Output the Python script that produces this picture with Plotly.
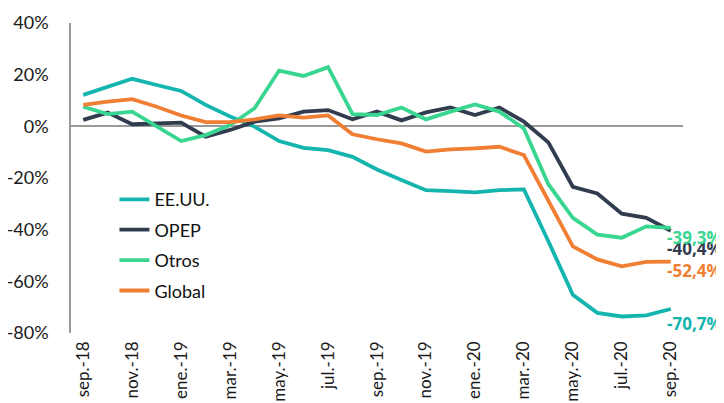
import plotly.graph_objects as go

months = ["sep.-18", "oct.-18", "nov.-18", "dic.-18", "ene.-19", "feb.-19", "mar.-19",
          "abr.-19", "may.-19", "jun.-19", "jul.-19", "ago.-19", "sep.-19", "oct.-19",
          "nov.-19", "dic.-19", "ene.-20", "feb.-20", "mar.-20", "abr.-20", "may.-20",
          "jun.-20", "jul.-20", "ago.-20", "sep.-20"]

eeuu = [12.2, 15.4, 18.4, 16.0, 13.7, 8.3, 3.8, -0.1, -5.7, -8.3, -9.2, -11.8, -16.7,
        -20.8, -24.7, -25.1, -25.6, -24.7, -24.4, -44.5, -65.2, -72.2, -73.6, -73.2, -70.7]
opep = [2.5, 5.3, 0.8, 1.0, 1.4, -4.0, -1.4, 1.8, 3.1, 5.7, 6.3, 2.7, 5.7,
        2.3, 5.4, 7.3, 4.4, 7.3, 1.8, -6.2, -23.4, -26.0, -33.8, -35.4, -40.4]
otros = [7.6, 4.7, 5.7, -0.1, -5.7, -3.4, 0.5, 7.0, 21.6, 19.5, 22.9, 4.7, 4.4,
         7.3, 2.7, 5.7, 8.5, 5.7, -0.8, -22.4, -35.4, -41.9, -43.1, -38.7, -39.3]
glob = [8.3, 9.6, 10.5, 7.6, 4.2, 1.6, 1.6, 2.7, 4.2, 3.4, 4.2, -3.1, -5.0,
        -6.6, -9.8, -8.9, -8.5, -7.9, -11.1, -29.0, -46.5, -51.5, -54.2, -52.5, -52.4]

series_names = ["EE.UU.", "OPEP", "Otros", "Global"]
series_values = [eeuu, opep, otros, glob]
colors = ["#14B4AF", "#313C4E", "#38D690", "#F07F34"]
end_labels = ["-70,7%", "-40,4%", "-39,3%", "-52,4%"]
label_yshift = [-15, -18, -10, -9]

y_ticks = [40, 20, 0, -20, -40, -60, -80]
y_ticktext = ["40%", "20%", "0%", "-20%", "-40%", "-60%", "-80%"]
x_ticks = months[::2]

fig = go.Figure()
for i, (name, vals, col) in enumerate(zip(series_names, series_values, colors)):
    fig.add_trace(go.Scatter(x=months, y=vals, mode="lines", name=name,
                             legendgroup=name,
                             line=dict(color=col, width=3.8)))
    fig.add_annotation(x=months[-1], y=vals[-1], text="<b>%s</b>" % end_labels[i],
                       showarrow=False, xanchor="left", yanchor="middle",
                       xshift=-6, yshift=label_yshift[i],
                       font=dict(family="Open Sans", size=17, color=col))

fig.update_layout(
    width=724, height=403,
    margin=dict(l=63, r=49, t=15, b=78),
    paper_bgcolor="white", plot_bgcolor="white",
    font=dict(family="Lato", size=18, color="#1a1a1a"),
    showlegend=True,
    legend=dict(x=0.071, y=0.49, xanchor="left", yanchor="top",
                bgcolor="rgba(0,0,0,0)", font=dict(family="Lato", size=18, color="#111"),
                traceorder="grouped", tracegroupgap=4),
)
fig.update_xaxes(
    type="category", categoryorder="array", categoryarray=months,
    range=[-0.5, len(months) - 0.5], automargin=False,
    tickmode="array", tickvals=x_ticks, ticktext=x_ticks,
    tickangle=-90, showgrid=False, showline=False, ticks="",
    ticklabelstandoff=4,
    tickfont=dict(family="Lato", size=17, color="#1a1a1a"),
)
fig.update_yaxes(
    range=[-80, 40], tickmode="array", tickvals=y_ticks, ticktext=y_ticktext,
    automargin=False,
    showgrid=False, showline=True, linecolor="#9a9a9a", linewidth=1.5,
    zeroline=True, zerolinecolor="#9a9a9a", zerolinewidth=1.5, ticks="",
    ticklabelstandoff=17,
    tickfont=dict(family="Lato", size=18, color="#1a1a1a"),
)

fig.write_html("out.html")
